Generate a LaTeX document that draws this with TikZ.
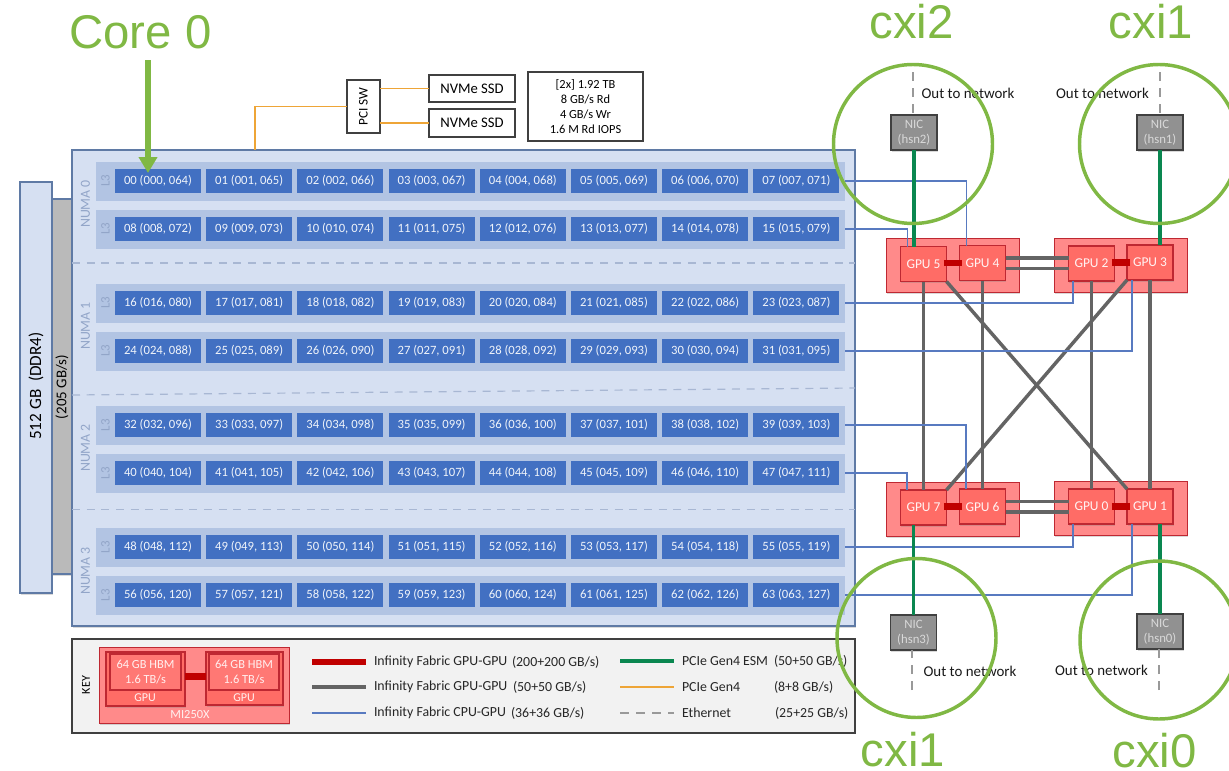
\documentclass[tikz,border=0pt]{standalone}
\usepackage{fontspec}
\setmainfont{Carlito}
\newfontfamily\calloutfont{Liberation Sans}
\usepackage{xcolor}
\usepackage{tikz}
\usetikzlibrary{arrows.meta,calc,positioning,shadows}
\definecolor{boardblue}{RGB}{214,224,242}
\definecolor{bandblue}{RGB}{178,196,227}
\definecolor{coreblue}{RGB}{66,112,194}
\definecolor{edgeblue}{RGB}{95,122,165}
\definecolor{linkblue}{RGB}{88,122,192}
\definecolor{fadeblue}{RGB}{146,165,200}
\definecolor{gpured}{RGB}{255,108,102}
\definecolor{carrierred}{RGB}{255,138,138}
\definecolor{edgered}{RGB}{190,40,50}
\definecolor{linkred}{RGB}{192,0,0}
\definecolor{linkgray}{RGB}{100,100,100}
\definecolor{linkgreen}{RGB}{10,135,80}
\definecolor{linkorange}{RGB}{238,165,55}
\definecolor{callgreen}{RGB}{128,184,68}
\newcommand{\padnum}[1]{\ifnum#1<10 0\fi#1}
\newcommand{\padhyp}[1]{\ifnum#1<100 0\fi#1}
\newcommand{\fs}[1]{\fontsize{#1pt}{\dimexpr#1pt*12/10\relax}\selectfont}

\begin{document}
\begin{tikzpicture}[
    x=.75pt, y=-.75pt,
    every node/.style={inner sep=0pt, outer sep=0pt},
    sized/.style 2 args={minimum width=#1*.75pt, minimum height=#2*.75pt},
    softshadow/.style={drop shadow={opacity=.3, shadow xshift=.4pt, shadow yshift=-1.2pt}},
    board/.style={draw=edgeblue, fill=boardblue, line width=.9pt, softshadow},
    band/.style={fill=bandblue, sized={749}{39}},
    core/.style={fill=coreblue, text=white!92!coreblue, sized={86}{24}, font=\fs{9.5}},
    fade/.style={text=fadeblue, rotate=90},
    whitebox/.style={draw=black!75, fill=white, line width=.9pt, align=center},
    carrier/.style={draw=edgered, fill=carrierred, line width=.7pt, sized={133}{54}, softshadow},
    gpu/.style={draw=edgered, fill=gpured, line width=.9pt, text=white!92!gpured, sized={46}{35}, font=\fs{10.1}, softshadow},
    nic/.style={draw=black!75, fill=black!43, line width=.9pt, text=black!15, sized={46}{35}, align=center, font=\fs{9.6}, softshadow},
    note/.style={text=black!90, font=\fs{11.2}},
    legendtext/.style={anchor=west, text=black!85, font=\fs{10.4}},
    redlink/.style={draw=linkred, line width=4.9pt},
    graylink/.style={draw=linkgray, line width=2.6pt},
    bluelink/.style={draw=linkblue, line width=.9pt},
    greenlink/.style={draw=linkgreen, line width=2.7pt},
    orangelink/.style={draw=linkorange, line width=1.3pt},
    etherlink/.style={draw=black!40, line width=1.2pt, dash pattern=on 7pt off 5pt},
    numadash/.style={draw=fadeblue!80!white, line width=.9pt, dash pattern=on 6pt off 5pt},
    callout/.style={draw=callgreen, line width=2.6pt},
    calltext/.style={text=callgreen, font={\calloutfont\fs{35.5}}}
  ]
    \useasboundingbox (0,0) rectangle (1229,771);

    % memory and cpu board
    \node[board, fill=black!27, sized={24}{375}] (membus) at (62,386.5) {};
    \node[rotate=90, font=\fs{11.2}] (membuslabel) at (62,387) {(205 GB/s)};
    \node[board, sized={32}{411}] (memory) at (36,387.5) {};
    \node[rotate=90, font=\fs{12.9}] (memorylabel) at (36,386) {512 GB\ \ (DDR4)};
    \node[board, sized={783}{476}] (cpuboard) at (463.5,388) {};

    \foreach \numaid/\y in {0/204,1/326,2/448,3/571}
      \node[fade, font=\fs{10.4}] (numa\numaid) at (85.5,\y) {NUMA \numaid};
    \draw[numadash] (72,263) -- (855,263);
    \draw[numadash] (72,395) -- (855,388);
    \draw[numadash] (72,509.5) -- (855,509.5);

    \foreach \row/\y in {0/181,1/229,2/303,3/351,4/425,5/473,6/547,7/595} {
      \node[band] (l3row\row) at (470.5,\y) {};
      \node[fade, font=\fs{9.7}] (l3label\row) at (105.5,\y) {L3};
      \foreach \col in {0,...,7} {
        \pgfmathtruncatemacro{\coreid}{\row*8+\col}
        \pgfmathtruncatemacro{\hypid}{\coreid+64}
        \pgfmathsetmacro{\corex}{158+\col*91.2}
        \node[core] (core\coreid) at (\corex,\y) {\padnum{\coreid} (0\padnum{\coreid}, \padhyp{\hypid})};
      }
    }

    % storage
    \node[whitebox, sized={53}{33}, font=\fs{9.9}, rotate=90] (pcisw) at (363.5,106.5) {PCI SW};
    \node[whitebox, sized={86}{27}, font=\fs{11}] (ssdtop) at (472,88.5) {NVMe SSD};
    \node[whitebox, sized={86}{28}, font=\fs{11}] (ssdbottom) at (472,123) {NVMe SSD};
    \node[whitebox, sized={115}{69}, font=\fs{9.3}] (ssdinfo) at (585.5,106.5) {[2x] 1.92 TB\\8 GB/s Rd\\4 GB/s Wr\\1.6 M Rd IOPS};
    \coordinate (pcitap) at (255,150);
    \draw[orangelink] (pcisw.north) -| (pcitap);
    \draw[orangelink] (ssdtop.west) -- (ssdtop.west -| pcisw.south);
    \draw[orangelink] (ssdbottom.west) -- (ssdbottom.west -| pcisw.south);

    % gpus
    \node[carrier] (carrierA) at (952.5,265) {};
    \node[carrier] (carrierB) at (1120.5,265) {};
    \node[carrier] (carrierC) at (953,509.5) {};
    \node[carrier] (carrierD) at (1120.5,508.5) {};
    \foreach \gpuid/\x/\y in {5/923.5/264,4/982.5/263,2/1091.5/263.5,3/1150/262.5,7/923.5/507.5,6/982.5/506.5,0/1091.5/506.5,1/1150/506.5}
      \node[gpu] (gpu\gpuid) at (\x,\y) {GPU \gpuid};

    \foreach \lgpu/\rgpu in {5/4,2/3,7/6,0/1}
      \draw[redlink, shorten <=-2pt, shorten >=-2pt] (gpu\lgpu.east |- gpu\rgpu.west) -- (gpu\rgpu.west);
    \foreach \lgpu/\rgpu in {4/2,6/0} {
      \draw[graylink] ([yshift=3.9pt]gpu\lgpu.east) -- ([yshift=3.9pt]gpu\rgpu.west |- gpu\lgpu.east);
      \draw[graylink] ([yshift=-4.2pt]gpu\lgpu.east) -- ([yshift=-4.2pt]gpu\rgpu.west |- gpu\lgpu.east);
    }
    \foreach \upper/\lower in {5/7,4/6,2/0,3/1}
      \draw[graylink] (gpu\upper.south) -- (gpu\lower.north);
    \draw[graylink] (gpu5.south east) -- (gpu1.north west);
    \draw[graylink] (gpu3.south west) -- (gpu7.north east);

    \foreach \row/\gpuid/\off/\side in {0/4/5.25/north west,1/5/5.25/north west,2/2/3.4/south west,3/3/3.75/south west,4/6/4.9/north west,5/7/4.9/north west,6/0/3.4/south west,7/1/3.75/south west}
      \draw[bluelink] (l3row\row.east) -| ([xshift=\off pt]gpu\gpuid.\side);

    % nics
    \node[nic] (hsn2) at (914,132.5) {NIC\\(hsn2)};
    \node[nic] (hsn1) at (1160,132.5) {NIC\\(hsn1)};
    \node[nic] (hsn3) at (913.5,632.5) {NIC\\(hsn3)};
    \node[nic] (hsn0) at (1160,631.5) {NIC\\(hsn0)};
    \draw[greenlink] (hsn2.south) -- (hsn2.south |- gpu5.north);
    \draw[greenlink] (hsn1.south) -- (hsn1.south |- gpu3.north);
    \draw[greenlink] (hsn3.north) -- (hsn3.north |- gpu7.south);
    \draw[greenlink] (hsn0.north) -- (hsn0.north |- gpu1.south);
    \coordinate (outA) at (913,72);
    \coordinate (outB) at (1160,72);
    \coordinate (outC) at (912,690);
    \coordinate (outD) at (1159,690);
    \draw[etherlink] (outA) -- (outA |- hsn2.north);
    \draw[etherlink] (outB) -- (outB |- hsn1.north);
    \draw[etherlink] (outC) -- (outC |- hsn3.south);
    \draw[etherlink] (outD) -- (outD |- hsn0.south);
    \node[note] (netA) at (968,93) {Out to network};
    \node[note] (netB) at (1102.5,93) {Out to network};
    \node[note] (netC) at (970,671) {Out to network};
    \node[note] (netD) at (1101.5,670) {Out to network};

    % key
    \node[draw=black!75, fill=black!5, line width=.9pt, sized={783}{94}] (keybox) at (463.5,686) {};
    \node[rotate=90, font=\fs{9.1}] (keylabel) at (86,685) {KEY};
    \node[carrier, sized={190}{76}] (keymodule) at (194,685) {};
    \node[gpu, sized={79}{54}] (keygpuA) at (145.5,679) {};
    \node[gpu, sized={77}{53}] (keygpuB) at (244.5,678.5) {};
    \node[draw=edgered, line width=.9pt, fill=gpured!60!carrierred, text=white!90!gpured, sized={71}{36}, align=center, font=\fs{9.3}] (keyhbmA) at (145.5,672) {64 GB HBM\\1.6 TB/s};
    \node[draw=edgered, line width=.9pt, fill=gpured!60!carrierred, text=white!90!gpured, sized={70}{36}, align=center, font=\fs{9.3}] (keyhbmB) at (244,672) {64 GB HBM\\1.6 TB/s};
    \node[text=white!90!gpured, font=\fs{9}] (keygputextA) at (145,698) {GPU};
    \node[text=white!90!gpured, font=\fs{9}] (keygputextB) at (244,698) {GPU};
    \node[text=white!90!gpured, font=\fs{9.3}] (keymoduletext) at (190,715) {MI250X};
    \coordinate (keylinkA) at (185,676.5);
    \draw[redlink] (keylinkA) -- (keylinkA -| keygpuB.west);

    \foreach \name/\sty/\xa/\xb/\y/\txt/\xc/\rate in {
        a/redlink/312/366/662/Infinity Fabric GPU-GPU/512/{(200+200 GB/s)},
        b/graylink/312/366/687/Infinity Fabric GPU-GPU/513/{(50+50 GB/s)},
        c/bluelink/312/366/713/Infinity Fabric CPU-GPU/511/{(36+36 GB/s)},
        d/greenlink/620/674/661/PCIe Gen4 ESM/774/{(50+50 GB/s)},
        e/orangelink/620/674/687/PCIe Gen4/774/{(8+8 GB/s)},
        f/etherlink/620/674/713/Ethernet/775/{(25+25 GB/s)}} {
      \coordinate (key\name start) at (\xa,\y);
      \coordinate (key\name end) at (\xb,\y);
      \draw[\sty] (key\name start) -- (key\name end);
      \node[legendtext, right=6pt of key\name end] (key\name text) {\txt};
      \node[legendtext] (key\name rate) at (\xc,\y) {\rate};
    }

    % callouts
    \node[calltext] (coretext) at (140.5,32) {Core 0};
    \coordinate (coretail) at (148,60);
    \draw[draw=callgreen, line width=4.6pt, -{Triangle[width=13.5pt,length=12pt]}] (coretail) -- ([yshift=-3pt]coretail |- core0.north);
    \node[callout, circle, minimum size=159*.75pt] (ringA) at (913,144) {};
    \node[callout, circle, minimum size=159*.75pt] (ringB) at (1159,144) {};
    \node[callout, circle, minimum size=159*.75pt] (ringC) at (916.5,638) {};
    \node[callout, circle, minimum size=158*.75pt] (ringD) at (1159,640) {};
    \node[calltext] (cxiA) at (911.5,22) {cxi2};
    \node[calltext] (cxiB) at (1151,22) {cxi1};
    \node[calltext] (cxiC) at (903,749.5) {cxi1};
    \node[calltext] (cxiD) at (1154.5,751) {cxi0};
  \end{tikzpicture}
\end{document}
